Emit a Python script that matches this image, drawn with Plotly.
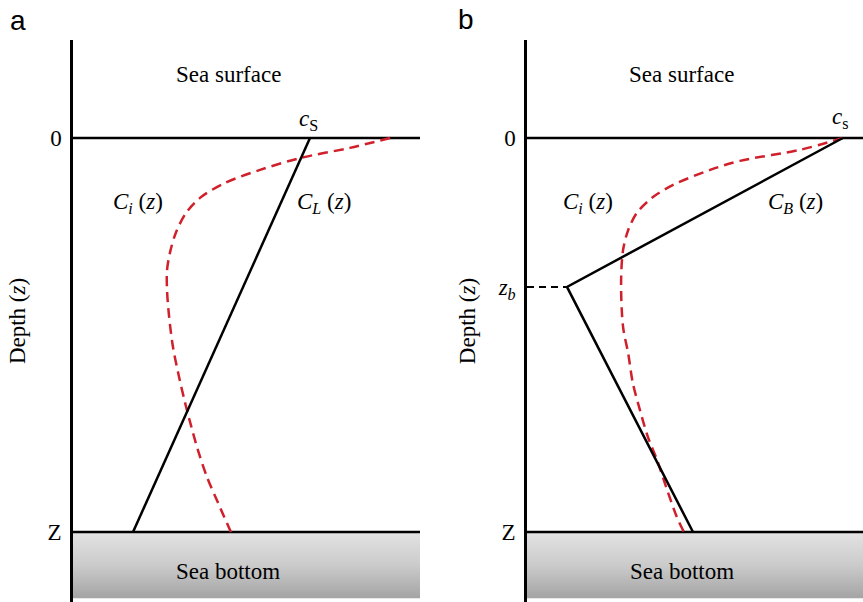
import plotly.graph_objects as go

# ---------------- data (normalized: depth 0 = surface, 1 = bottom Z) ----------------
# Panel a
a_ci_conc = [0.914, 0.798, 0.654, 0.539, 0.438, 0.366, 0.326, 0.297, 0.280, 0.271, 0.271,
             0.277, 0.288, 0.303, 0.321, 0.338, 0.360, 0.386, 0.418, 0.455]
a_ci_depth = [0.0, 0.025, 0.051, 0.081, 0.114, 0.152, 0.190, 0.239, 0.289, 0.335, 0.386,
              0.454, 0.530, 0.596, 0.665, 0.723, 0.792, 0.860, 0.926, 1.0]
a_cl_conc = [0.683, 0.173]
a_cl_depth = [0.0, 1.0]

# Panel b
b_ci_conc = [0.940, 0.813, 0.634, 0.545, 0.435, 0.375, 0.327, 0.301, 0.286, 0.280,
             0.286, 0.301, 0.315, 0.336, 0.360, 0.387, 0.417, 0.446, 0.467]
b_ci_depth = [0.0, 0.030, 0.058, 0.081, 0.119, 0.150, 0.190, 0.234, 0.284, 0.368,
              0.480, 0.546, 0.622, 0.690, 0.759, 0.817, 0.893, 0.962, 1.0]
b_cb_conc = [0.940, 0.119, 0.494]
b_cb_depth = [0.0, 0.378, 1.0]
zb_depth = 0.378

surface_conc = [0.0, 1.0]
bottom_box_conc = [0.0, 1.0, 1.0, 0.0, 0.0]
bottom_box_depth = [1.0, 1.0, 1.168, 1.168, 1.0]

tick_vals_a = [0, 1]
tick_text_a = ["0", "Z"]
tick_vals_b = [0, zb_depth, 1]
tick_text_b = ["0", "<i>z<sub>b</sub></i>", "Z"]

SERIF = "Liberation Serif"
SANS = "Liberation Sans"
RED = "#d0202c"
W, H = 863, 602
FS = 23

fig = go.Figure()


def add_panel(xa, ya, ci_c, ci_d, line_c, line_d):
    # gray sea bottom
    fig.add_trace(go.Scatter(
        x=bottom_box_conc, y=bottom_box_depth, xaxis=xa, yaxis=ya, mode="lines",
        line=dict(width=0), fill="toself",
        fillgradient=dict(type="vertical", start=1.0, stop=1.168,
                          colorscale=[[0, "#e3e3e3"], [0.5, "#cbcbcb"], [1, "#a4a4a4"]]),
        hoverinfo="skip", showlegend=False))
    # surface and bottom lines
    for d in (0.0, 1.0):
        fig.add_trace(go.Scatter(
            x=surface_conc, y=[d, d], xaxis=xa, yaxis=ya, mode="lines",
            line=dict(color="black", width=2.5), showlegend=False, hoverinfo="skip",
            cliponaxis=False))
    # red dashed Ci(z)
    fig.add_trace(go.Scatter(
        x=ci_c, y=ci_d, xaxis=xa, yaxis=ya, mode="lines",
        line=dict(color=RED, width=2.5, dash="10px,6px", shape="spline", smoothing=0.9),
        showlegend=False, hoverinfo="skip"))
    # black profile
    fig.add_trace(go.Scatter(
        x=line_c, y=line_d, xaxis=xa, yaxis=ya, mode="lines",
        line=dict(color="black", width=2.5), showlegend=False, hoverinfo="skip"))


add_panel("x", "y", a_ci_conc, a_ci_depth, a_cl_conc, a_cl_depth)
add_panel("x2", "y2", b_ci_conc, b_ci_depth, b_cb_conc, b_cb_depth)

# dashed z_b connector in panel b
fig.add_trace(go.Scatter(
    x=[0.0, b_cb_conc[1]], y=[zb_depth, zb_depth], xaxis="x2", yaxis="y2", mode="lines",
    line=dict(color="black", width=2, dash="7px,5px"), showlegend=False, hoverinfo="skip",
    cliponaxis=False))

yrange = [(602 - 138) / 394, (40 - 138) / 394]
ydom = [0, 1 - 40 / H]

common_x = dict(visible=False, range=[0, 1], fixedrange=True)
common_y = dict(range=yrange, domain=ydom, showline=True, linecolor="black", linewidth=2.5,
                ticks="", showgrid=False, zeroline=False, ticklabelstandoff=4,
                fixedrange=True,
                tickfont=dict(family=SERIF, size=FS, color="black"),
                title=dict(text="Depth (<i>z</i>)", font=dict(family=SERIF, size=FS, color="black"),
                           standoff=16))

fig.update_layout(
    width=W, height=H, margin=dict(l=0, r=0, t=0, b=0),
    paper_bgcolor="white", plot_bgcolor="white",
    xaxis=dict(common_x, domain=[73 / W, 420 / W], anchor="y"),
    yaxis=dict(common_y, anchor="x", tickvals=tick_vals_a, ticktext=tick_text_a),
    xaxis2=dict(common_x, domain=[527 / W, 1.0], anchor="y2"),
    yaxis2=dict(common_y, anchor="x2", tickvals=tick_vals_b, ticktext=tick_text_b),
)

tf = dict(family=SERIF, size=FS, color="black")
ann = [
    # panel a
    dict(x=0.447, y=-0.160, xref="x", yref="y", text="Sea surface"),
    dict(x=0.447, y=1.1015, xref="x", yref="y", text="Sea bottom"),
    dict(x=0.680, y=-0.046, xref="x", yref="y", text="<i>c</i><sub>S</sub>"),
    dict(x=0.187, y=0.165, xref="x", yref="y", text="<i>C<sub>i</sub></i> (<i>z</i>)"),
    dict(x=0.723, y=0.165, xref="x", yref="y", text="<i>C<sub>L</sub></i> (<i>z</i>)"),
    # panel b
    dict(x=0.461, y=-0.160, xref="x2", yref="y2", text="Sea surface"),
    dict(x=0.461, y=1.1015, xref="x2", yref="y2", text="Sea bottom"),
    dict(x=0.932, y=-0.051, xref="x2", yref="y2", text="<i>c</i><sub>s</sub>"),
    dict(x=0.182, y=0.165, xref="x2", yref="y2", text="<i>C<sub>i</sub></i> (<i>z</i>)"),
    dict(x=0.798, y=0.165, xref="x2", yref="y2", text="<i>C<sub>B</sub></i> (<i>z</i>)"),
]
for a in ann:
    a.update(showarrow=False, font=tf)
ann += [
    dict(x=18 / W, y=1 - 21 / H, xref="paper", yref="paper", text="a", showarrow=False,
         xanchor="center", yanchor="middle",
         font=dict(family=SANS, size=28, color="black")),
    dict(x=466 / W, y=1 - 19 / H, xref="paper", yref="paper", text="b", showarrow=False,
         xanchor="center", yanchor="middle",
         font=dict(family=SANS, size=28, color="black")),
]
fig.update_layout(annotations=ann)

fig.write_html("out.html", config={"displayModeBar": False},
               post_script="document.body.style.margin='0';document.body.style.overflow='hidden';")
